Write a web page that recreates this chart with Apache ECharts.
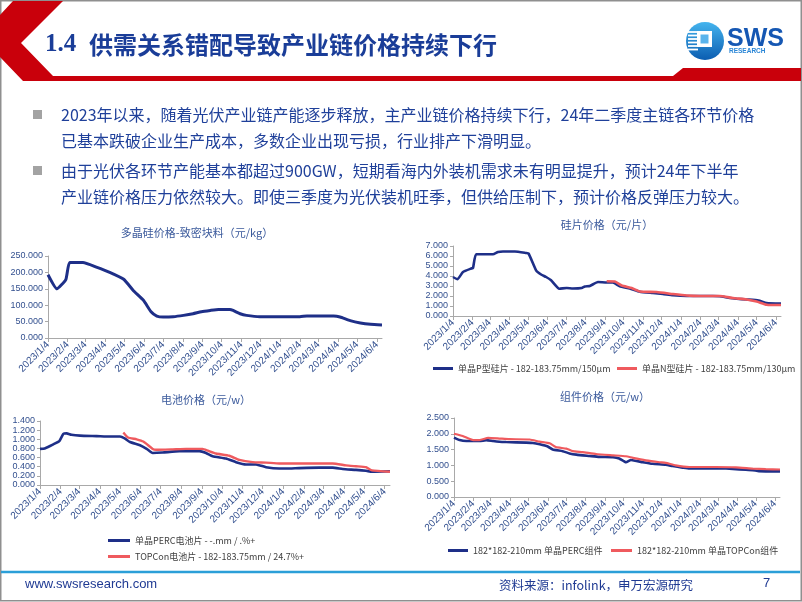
<!DOCTYPE html>
<html><head><meta charset="utf-8">
<script src="https://cdn.jsdelivr.net/npm/echarts@6/dist/echarts.min.js"></script>
<style>html,body{margin:0;padding:0;background:#fff}#c{width:802px;height:602px}</style>
</head><body><div id="c"></div>
<script>
// ---- tick labels ----
const monthLabels = ['2023/1/4','2023/2/4','2023/3/4','2023/4/4','2023/5/4','2023/6/4','2023/7/4','2023/8/4','2023/9/4','2023/10/4','2023/11/4','2023/12/4','2024/1/4','2024/2/4','2024/3/4','2024/4/4','2024/5/4','2024/6/4'];
const firstDate = '2023/1/4';
const lastDate = '2024/6/12';

// ---- 多晶硅价格-致密块料（元/kg） ----
const polyDates = ['2023/1/4','2023/1/18','2023/2/1','2023/2/7','2023/2/28','2023/3/21','2023/4/11','2023/5/3','2023/5/18','2023/6/3','2023/6/15','2023/6/24','2023/7/4','2023/7/20','2023/8/5','2023/8/20','2023/9/2','2023/9/16','2023/9/29','2023/10/17','2023/10/22','2023/11/2','2023/11/12','2023/12/3','2024/2/4','2024/2/15','2024/3/28','2024/4/7','2024/4/23','2024/5/9','2024/5/25','2024/6/12'];
const polyPrices = [193,150,178,230,230,216,200,179,145,115,80,67,64,65,69,74,80,84,87,87,84,74,69,65,65,67,67,64,53,46,42,40];

// ---- 硅片价格（元/片） ----
const pWaferDates = ['2023/1/4','2023/1/11','2023/1/20','2023/2/2','2023/2/5','2023/2/10','2023/3/9','2023/3/17','2023/3/25','2023/4/13','2023/5/1','2023/5/5','2023/5/17','2023/5/25','2023/6/2','2023/6/10','2023/6/23','2023/7/5','2023/7/15','2023/7/29','2023/8/3','2023/8/11','2023/8/24','2023/9/7','2023/9/17','2023/9/28','2023/10/14','2023/10/30','2023/11/20','2023/12/6','2023/12/22','2024/1/13','2024/2/24','2024/3/6','2024/3/22','2024/4/2','2024/4/18','2024/5/7','2024/5/20','2024/6/12'];
const pWaferPrices = [3.9,3.67,4.4,4.75,4.8,6.17,6.17,6.4,6.45,6.45,6.3,6.25,4.57,4.15,3.9,3.57,2.73,2.8,2.75,2.8,2.95,3.0,3.4,3.35,3.35,2.97,2.75,2.43,2.3,2.2,2.07,2.0,2.0,1.97,1.8,1.73,1.65,1.55,1.3,1.25];
const nWaferDates = ['2023/9/7','2023/9/20','2023/10/1','2023/10/17','2023/10/30','2023/11/26','2023/12/22','2024/1/13','2024/2/3','2024/3/6','2024/3/27','2024/4/18','2024/5/4','2024/5/20','2024/6/12'];
const nWaferPrices = [3.47,3.45,3.05,2.8,2.45,2.4,2.2,2.05,2.0,2.0,1.8,1.65,1.45,1.13,1.1];

// ---- 电池价格（元/w） ----
const percCellDates = ['2023/1/4','2023/1/11','2023/1/24','2023/2/2','2023/2/8','2023/2/13','2023/2/20','2023/3/5','2023/3/30','2023/4/19','2023/5/4','2023/5/11','2023/5/19','2023/6/3','2023/6/13','2023/6/22','2023/7/7','2023/8/1','2023/8/31','2023/9/10','2023/9/20','2023/10/10','2023/10/25','2023/11/9','2023/11/24','2023/12/9','2023/12/29','2024/1/8','2024/1/28','2024/2/27','2024/3/18','2024/4/2','2024/4/22','2024/5/7','2024/5/16','2024/6/12'];
const percCellPrices = [0.79,0.8,0.89,0.96,1.12,1.13,1.1,1.08,1.07,1.06,1.06,1.02,0.94,0.87,0.79,0.7,0.71,0.74,0.74,0.7,0.63,0.58,0.5,0.45,0.45,0.39,0.36,0.36,0.37,0.38,0.38,0.35,0.33,0.31,0.29,0.3];
const topconCellDates = ['2023/5/9','2023/5/16','2023/5/29','2023/6/8','2023/6/22','2023/6/27','2023/7/22','2023/8/11','2023/9/5','2023/9/13','2023/9/25','2023/10/15','2023/10/30','2023/11/19','2023/12/9','2023/12/29','2024/3/18','2024/4/7','2024/4/22','2024/5/7','2024/5/16','2024/6/12'];
const topconCellPrices = [1.15,1.04,1.0,0.95,0.79,0.77,0.78,0.79,0.79,0.75,0.69,0.64,0.55,0.5,0.49,0.47,0.47,0.43,0.41,0.39,0.32,0.29];

// ---- 组件价格（元/w） ----
const percModDates = ['2023/1/4','2023/1/13','2023/1/24','2023/2/14','2023/2/25','2023/3/8','2023/3/18','2023/3/29','2023/4/30','2023/5/11','2023/5/22','2023/6/4','2023/6/12','2023/6/28','2023/7/9','2023/7/20','2023/8/10','2023/8/26','2023/9/17','2023/9/27','2023/10/8','2023/10/16','2023/11/4','2023/11/20','2023/12/11','2023/12/22','2024/1/7','2024/1/18','2024/3/17','2024/3/28','2024/4/18','2024/4/29','2024/5/9','2024/6/12'];
const percModPrices = [1.88,1.8,1.77,1.77,1.8,1.77,1.75,1.74,1.72,1.71,1.67,1.6,1.5,1.45,1.38,1.34,1.3,1.27,1.26,1.22,1.1,1.17,1.1,1.05,1.02,0.98,0.93,0.9,0.9,0.89,0.86,0.85,0.82,0.81];
const topconModDates = ['2023/1/4','2023/1/18','2023/2/4','2023/2/14','2023/2/28','2023/3/18','2023/4/3','2023/5/6','2023/5/22','2023/6/7','2023/6/17','2023/7/4','2023/7/14','2023/7/30','2023/8/21','2023/9/17','2023/10/8','2023/10/19','2023/11/9','2023/12/1','2023/12/11','2023/12/27','2024/1/18','2024/3/1','2024/4/2','2024/4/29','2024/5/20','2024/6/12'];
const topconModPrices = [2.0,1.93,1.8,1.8,1.87,1.85,1.83,1.82,1.75,1.7,1.58,1.53,1.45,1.42,1.36,1.32,1.29,1.24,1.16,1.1,1.08,1.0,0.95,0.95,0.94,0.9,0.88,0.87];

// ---- names / texts ----
const names = {
  poly: '多晶硅价格-致密块料（元/kg）',
  pW: '单晶P型硅片 - 182-183.75mm/150μm', nW: '单晶N型硅片 - 182-183.75mm/130μm',
  pC: '单晶PERC电池片 - -.mm / .%+', tC: 'TOPCon电池片 - 182-183.75mm / 24.7%+',
  pM: '182*182-210mm 单晶PERC组件', tM: '182*182-210mm 单晶TOPCon组件'
};

function dayOf(s){const p=s.split('/').map(Number);return (Date.UTC(p[0],p[1]-1,p[2])-Date.UTC(2023,0,4))/86400000;}
function pairs(d,v){return d.map((s,i)=>[dayOf(s),v[i]]);}
const tickDays = monthLabels.map(dayOf);
const X_MIN = dayOf(firstDate), X_MAX = dayOf(lastDate);

const LABEL = '#33508f', AXIS = '#a9a9a9', NAVY = '#1e2f88', RED = '#ef5a5e';
const FONT = '"Liberation Sans","Noto Sans CJK SC",sans-serif';
const CJK = '"Noto Sans CJK SC","Liberation Sans",sans-serif';

function xAx(gi){return {type:'value',gridIndex:gi,min:X_MIN,max:X_MAX,
  axisLine:{show:true,lineStyle:{color:AXIS,width:1}},
  axisTick:{show:true,customValues:tickDays,length:4,lineStyle:{color:AXIS}},
  axisLabel:{customValues:tickDays,rotate:45,fontSize:10,color:LABEL,fontFamily:FONT,margin:5,hideOverlap:false,
    formatter:v=>{const i=tickDays.indexOf(Math.round(v));return i>=0?monthLabels[i]:'';}},
  splitLine:{show:false}};}
function yAx(gi,max,interval){return {type:'value',gridIndex:gi,min:0,max:max,interval:interval,
  axisLine:{show:true,lineStyle:{color:AXIS,width:1}},
  axisTick:{show:true,length:3,lineStyle:{color:AXIS}},
  axisLabel:{fontSize:9,color:LABEL,fontFamily:FONT,margin:5,hideOverlap:false,showMinLabel:true,showMaxLabel:true,
    formatter:v=>v.toFixed(3)},
  splitLine:{show:false}};}
function ln(name,gi,data,color,w){return {type:'line',name:name,xAxisIndex:gi,yAxisIndex:gi,data:data,
  showSymbol:false,symbol:'none',smooth:0.15,lineStyle:{color:color,width:w},itemStyle:{color:color},z:3};}
function lg(name,left,top,iw){return {data:[name],left:left,top:top,padding:0,icon:'rect',itemWidth:iw,itemHeight:3,
  itemGap:0,textStyle:{fontSize:9,color:'#404040',fontFamily:CJK}};}

function txt(x,y,text,font,fill,align){return {type:'text',x:x,y:y,z:10,
  style:{text:text,font:font,fill:fill,align:align||'left',verticalAlign:'middle'}};}

const stripes=[];
[32,35.5,39,42.5,46,49.5].forEach(yy=>stripes.push({type:'line',z:12,shape:{x1:688,y1:yy,x2:698,y2:yy},style:{stroke:'#ffffff',lineWidth:1.8}}));

const graphic=[
  {type:'rect',z:1,shape:{x:0.75,y:0.75,width:800.5,height:600},style:{fill:null,stroke:'#8f8f8f',lineWidth:1.5}},
  {type:'polygon',z:2,shape:{points:[[13,1],[63,1],[21,43],[53,76],[673,76],[683,68],[801,68],[801,81],[23,81],[0,57],[0,15]]},style:{fill:'#c9000b'}},
  txt(45,45,'1.4','bold 25px "Liberation Serif","Noto Serif CJK SC",serif','#1a3d98'),
  txt(89,45,'供需关系错配导致产业链价格持续下行','bold 24px "Noto Sans CJK SC",sans-serif','#1a3d98'),
  {type:'circle',z:11,shape:{cx:705,cy:41,r:19},style:{fill:new echarts.graphic.LinearGradient(0,0,0,1,[{offset:0,color:'#44b4ee'},{offset:1,color:'#0b5db1'}])}},
  ...stripes,
  {type:'rect',z:12,shape:{x:697,y:31,width:15,height:16},style:{fill:'#ffffff'}},
  {type:'rect',z:13,shape:{x:700.5,y:34.5,width:8,height:9},style:{fill:'#5ab4ec'}},
  txt(727,39,'SWS','bold 25px "Liberation Sans",Arial,sans-serif','#1557b3'),
  txt(729,51,'RESEARCH','bold 6.5px "Liberation Sans",Arial,sans-serif','#2a86d6'),
  {type:'rect',z:10,shape:{x:33,y:110,width:9,height:9},style:{fill:'#a3a3a3'}},
  {type:'rect',z:10,shape:{x:33,y:166,width:9,height:9},style:{fill:'#a3a3a3'}},
  txt(61,115,'2023年以来，随着光伏产业链产能逐步释放，主产业链价格持续下行，24年二季度主链各环节价格','16px '+CJK,'#1f409a'),
  txt(61,141,'已基本跌破企业生产成本，多数企业出现亏损，行业排产下滑明显。','16px '+CJK,'#1f409a'),
  txt(61,171,'由于光伏各环节产能基本都超过900GW，短期看海内外装机需求未有明显提升，预计24年下半年','16px '+CJK,'#1f409a'),
  txt(61,197,'产业链价格压力依然较大。即使三季度为光伏装机旺季，但供给压制下，预计价格反弹压力较大。','16px '+CJK,'#1f409a'),
  txt(197,233,names.poly,'11px '+CJK,'#3b5a9c','center'),
  txt(607,225,'硅片价格（元/片）','11px '+CJK,'#3b5a9c','center'),
  txt(206,400,'电池价格（元/w）','11px '+CJK,'#3b5a9c','center'),
  txt(605,397,'组件价格（元/w）','11px '+CJK,'#3b5a9c','center'),
  {type:'line',z:10,shape:{x1:1,y1:572,x2:800,y2:572},style:{stroke:'#2b9fd8',lineWidth:2.5}},
  txt(25,584,'www.swsresearch.com','13px "Liberation Sans",Arial,sans-serif','#1f3a93'),
  txt(499,585,'资料来源：infolink，申万宏源研究','12.5px '+CJK,'#1f3a93'),
  txt(763,583,'7','13px "Liberation Sans",Arial,sans-serif','#1f3a93')
];

const chart = echarts.init(document.getElementById('c'),null,{renderer:'canvas'});
chart.setOption({
  animation:false,
  backgroundColor:'#ffffff',
  grid:[
    {left:48,top:256,width:334,height:82},
    {left:453,top:246,width:328,height:70},
    {left:40,top:421,width:350,height:64},
    {left:454,top:418,width:326,height:79}
  ],
  xAxis:[xAx(0),xAx(1),xAx(2),xAx(3)],
  yAxis:[yAx(0,250,50),yAx(1,7,1),yAx(2,1.4,0.2),yAx(3,2.5,0.5)],
  legend:[
    lg(names.pW,433,364,20), lg(names.nW,617,364,20),
    lg(names.pC,108,536,22), lg(names.tC,108,552,22),
    lg(names.pM,448,546,20), lg(names.tM,611,546,21)
  ],
  series:[
    ln(names.poly,0,pairs(polyDates,polyPrices),NAVY,3),
    ln(names.pW,1,pairs(pWaferDates,pWaferPrices),NAVY,2.6),
    ln(names.nW,1,pairs(nWaferDates,nWaferPrices),RED,2.6),
    ln(names.pC,2,pairs(percCellDates,percCellPrices),NAVY,2.6),
    ln(names.tC,2,pairs(topconCellDates,topconCellPrices),RED,2.4),
    ln(names.pM,3,pairs(percModDates,percModPrices),NAVY,2.6),
    ln(names.tM,3,pairs(topconModDates,topconModPrices),RED,2.2)
  ],
  graphic:graphic
});
</script></body></html>
